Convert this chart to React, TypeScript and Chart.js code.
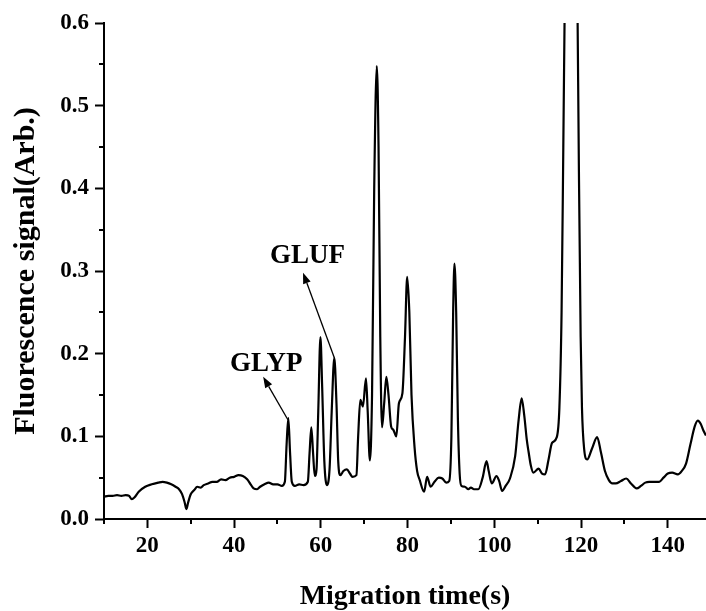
import React, { useEffect, useRef } from "react";
import { Chart, registerables } from "chart.js";

Chart.register(...registerables);

// Migration time (s)
const times: number[] = [
  10, 11, 12, 13, 14, 15, 15.8, 16.4, 17, 18, 19.5, 21, 22.5, 23.5, 24.5, 25.5, 26.5, 27.3, 28, 28.6, 29, 29.4, 30,
  30.8, 31.5, 32.3, 33, 34, 35, 36, 37, 38, 39, 40, 41, 42, 43, 43.8, 44.5, 45.3, 46, 47, 48, 49, 50, 51, 51.7,
  52.1, 52.5, 52.9, 53.3, 54, 55, 56, 57, 57.4, 57.8, 58.2, 58.6, 59.0, 59.4, 59.9, 60.3, 60.8, 61.4, 62.0, 62.5,
  63.1, 63.6, 64.0, 64.5, 65.2, 66.0, 66.7, 67.3, 68.2, 68.6, 69.1, 69.7, 70.4, 70.8, 71.3, 71.8, 72.3, 72.9, 73.3,
  73.7, 74.1, 74.6, 75.1, 75.6, 76.2, 76.7, 77.4, 78.0, 78.8, 79.4, 79.9, 80.4, 80.9, 81.6, 82.2, 82.8, 83.8, 84.5,
  85.3, 86.2, 87.2, 88.0, 88.9, 89.6, 90.1, 90.5, 90.8, 91.2, 91.6, 92.0, 92.4, 93.2, 94, 94.6, 95.3, 96.3, 97.3,
  98.2, 98.7, 99.4, 100.5, 101.1, 101.8, 102.6, 103.6, 104.8, 105.6, 106.3, 106.9, 107.5, 107.9, 108.4, 109.0,
  110.2, 111.0, 111.7, 112.5, 113.3, 114.4, 115.0, 115.5, 115.9, 116.3, 116.8, 117.7, 118.6, 119.1, 119.5, 119.9,
  120.2, 120.7, 121.4, 122.5, 123.7, 124.6, 125.5, 126.4, 127.2, 128.0, 129.2, 130.4, 131.5, 132.8, 133.8, 134.8,
  135.7, 137, 138, 139, 140, 141, 142.3, 143.2, 144.2, 145.2, 146.2, 146.9, 147.6, 148.2, 148.8,
];

// Fluorescence signal (Arb.)
const signal: number[] = [
  0.027, 0.028, 0.028, 0.029, 0.028, 0.029, 0.028, 0.024, 0.026, 0.033, 0.039, 0.042, 0.044, 0.045, 0.044, 0.042,
  0.039, 0.036, 0.03, 0.02, 0.012, 0.02, 0.03,
  0.035, 0.039, 0.038, 0.041, 0.043, 0.045, 0.045, 0.048, 0.047, 0.05, 0.051, 0.053, 0.052, 0.048, 0.042, 0.037,
  0.036, 0.039, 0.042, 0.044, 0.042, 0.042, 0.04, 0.045,
  0.09, 0.122, 0.08, 0.045, 0.04, 0.042, 0.041, 0.045, 0.08, 0.111, 0.08, 0.052, 0.06, 0.13, 0.22, 0.16, 0.07,
  0.041, 0.06, 0.13,
  0.195, 0.14, 0.07, 0.053, 0.058, 0.06, 0.055, 0.051, 0.053, 0.1, 0.144, 0.136, 0.17, 0.13, 0.071, 0.15, 0.4,
  0.548, 0.45,
  0.22, 0.111, 0.14, 0.172, 0.15, 0.112, 0.108, 0.1, 0.14, 0.152, 0.22, 0.293, 0.25, 0.15, 0.087, 0.058, 0.047,
  0.033, 0.051,
  0.039, 0.045, 0.05, 0.049, 0.044, 0.046, 0.1, 0.25, 0.309, 0.25, 0.12, 0.055, 0.04, 0.039, 0.036, 0.038, 0.036,
  0.036, 0.05,
  0.07, 0.058, 0.043, 0.052, 0.046, 0.034, 0.04, 0.049, 0.076, 0.12, 0.146, 0.125, 0.095, 0.081, 0.065, 0.056,
  0.061, 0.055, 0.054, 0.072, 0.092, 0.099, 0.135, 0.25, 0.45, 0.66, 0.86, 0.97, 0.86, 0.66, 0.42, 0.22,
  0.135, 0.085, 0.072, 0.085, 0.099, 0.08, 0.058, 0.047, 0.043, 0.043, 0.046, 0.049, 0.043, 0.037, 0.04, 0.044,
  0.045, 0.045, 0.045, 0.05, 0.055, 0.056, 0.054, 0.058, 0.067, 0.09, 0.112, 0.119, 0.115, 0.107, 0.101,
];

const xMajorTicks: number[] = [20, 40, 60, 80, 100, 120, 140];
const xMinorTicks: number[] = [10, 30, 50, 70, 90, 110, 130];
const yMajorTicks: number[] = [0, 0.1, 0.2, 0.3, 0.4, 0.5, 0.6];
const yMinorTicks: number[] = [0.05, 0.15, 0.25, 0.35, 0.45, 0.55];

// Peak labels: text anchor and arrow (tail at the peak, head near the text), in data units
const annotationLabels: string[] = ["GLYP", "GLUF"];
const annotationTextX: number[] = [47.4, 56.9];
const annotationTextY: number[] = [0.1875, 0.318];
const annotationTailX: number[] = [52.4, 63.1];
const annotationTailY: number[] = [0.12, 0.195];
const annotationHeadX: number[] = [46.7, 55.9];
const annotationHeadY: number[] = [0.172, 0.298];

const FONT = "'Liberation Serif', 'Times New Roman', serif";

const extrasPlugin = {
  id: "extras",
  afterDraw(chart: any) {
    const ctx = chart.ctx;
    const xs = chart.scales.x;
    const ys = chart.scales.y;
    const area = chart.chartArea;
    ctx.save();
    ctx.strokeStyle = "#000";
    ctx.lineWidth = 2;
    // minor ticks
    xMinorTicks.forEach((v) => {
      const px = Math.round(xs.getPixelForValue(v));
      ctx.beginPath();
      ctx.moveTo(px, area.bottom);
      ctx.lineTo(px, area.bottom + 5);
      ctx.stroke();
    });
    yMinorTicks.forEach((v) => {
      const py = Math.round(ys.getPixelForValue(v));
      ctx.beginPath();
      ctx.moveTo(area.left, py);
      ctx.lineTo(area.left - 5, py);
      ctx.stroke();
    });
    // annotations
    ctx.fillStyle = "#000";
    ctx.font = `bold 27px ${FONT}`;
    ctx.textAlign = "center";
    ctx.textBaseline = "middle";
    annotationLabels.forEach((label, i) => {
      ctx.fillText(label, xs.getPixelForValue(annotationTextX[i]), ys.getPixelForValue(annotationTextY[i]));
      const x1 = xs.getPixelForValue(annotationTailX[i]);
      const y1 = ys.getPixelForValue(annotationTailY[i]);
      const x2 = xs.getPixelForValue(annotationHeadX[i]);
      const y2 = ys.getPixelForValue(annotationHeadY[i]);
      const ang = Math.atan2(y2 - y1, x2 - x1);
      const headLen = 11;
      const headW = 4;
      const bx = x2 - headLen * Math.cos(ang);
      const by = y2 - headLen * Math.sin(ang);
      ctx.lineWidth = 1.3;
      ctx.beginPath();
      ctx.moveTo(x1, y1);
      ctx.lineTo(bx, by);
      ctx.stroke();
      ctx.beginPath();
      ctx.moveTo(x2, y2);
      ctx.lineTo(bx + headW * Math.sin(ang), by - headW * Math.cos(ang));
      ctx.lineTo(bx - headW * Math.sin(ang), by + headW * Math.cos(ang));
      ctx.closePath();
      ctx.fill();
    });
    ctx.restore();
  },
};

export default function App() {
  const canvasRef = useRef<HTMLCanvasElement | null>(null);

  useEffect(() => {
    if (!canvasRef.current) return;
    const points = times.map((t, i) => ({ x: t, y: signal[i] }));
    const chart = new Chart(canvasRef.current, {
      type: "line",
      data: {
        datasets: [
          {
            data: points,
            borderColor: "#000",
            borderWidth: 2.2,
            pointRadius: 0,
            fill: false,
            cubicInterpolationMode: "monotone",
          },
        ],
      },
      options: {
        responsive: false,
        animation: false,
        events: [],
        layout: { padding: { top: 23, right: 0, left: 0, bottom: 0 } },
        plugins: { legend: { display: false }, tooltip: { enabled: false } },
        scales: {
          x: {
            type: "linear",
            min: 10,
            max: 148.8,
            afterBuildTicks: (scale: any) => {
              scale.ticks = xMajorTicks.map((value) => ({ value }));
            },
            afterFit: (scale: any) => {
              scale.height = 92;
            },
            ticks: {
              color: "#000",
              font: { family: FONT, size: 23, weight: "bold" },
              padding: 4,
              maxRotation: 0,
              callback: (v: any) => String(v),
            },
            grid: {
              display: true,
              drawOnChartArea: false,
              drawTicks: true,
              tickLength: 9,
              tickWidth: 2,
              tickColor: "#000",
            },
            border: { display: true, color: "#000", width: 2 },
            title: {
              display: true,
              text: "Migration time(s)",
              color: "#000",
              font: { family: FONT, size: 28, weight: "bold" },
              padding: { top: 0, bottom: -3 },
            },
          },
          y: {
            type: "linear",
            min: 0,
            max: 0.6,
            afterBuildTicks: (scale: any) => {
              scale.ticks = yMajorTicks.map((value) => ({ value }));
            },
            afterFit: (scale: any) => {
              scale.width = 104;
            },
            ticks: {
              color: "#000",
              font: { family: FONT, size: 23, weight: "bold" },
              padding: 6,
              callback: (v: any) => Number(v).toFixed(1),
            },
            grid: {
              display: true,
              drawOnChartArea: false,
              drawTicks: true,
              tickLength: 9,
              tickWidth: 2,
              tickColor: "#000",
            },
            border: { display: true, color: "#000", width: 2 },
            title: {
              display: true,
              text: "Fluorescence signal(Arb.)",
              color: "#000",
              font: { family: FONT, size: 30, weight: "bold" },
              padding: { top: 8, bottom: 0 },
            },
          },
        },
      },
      plugins: [extrasPlugin],
    });
    return () => chart.destroy();
  }, []);

  return (
    <div style={{ position: "absolute", left: 0, top: 0, width: 706, height: 611, background: "#fff" }}>
      <canvas ref={canvasRef} width={706} height={611} style={{ display: "block" }} />
    </div>
  );
}
